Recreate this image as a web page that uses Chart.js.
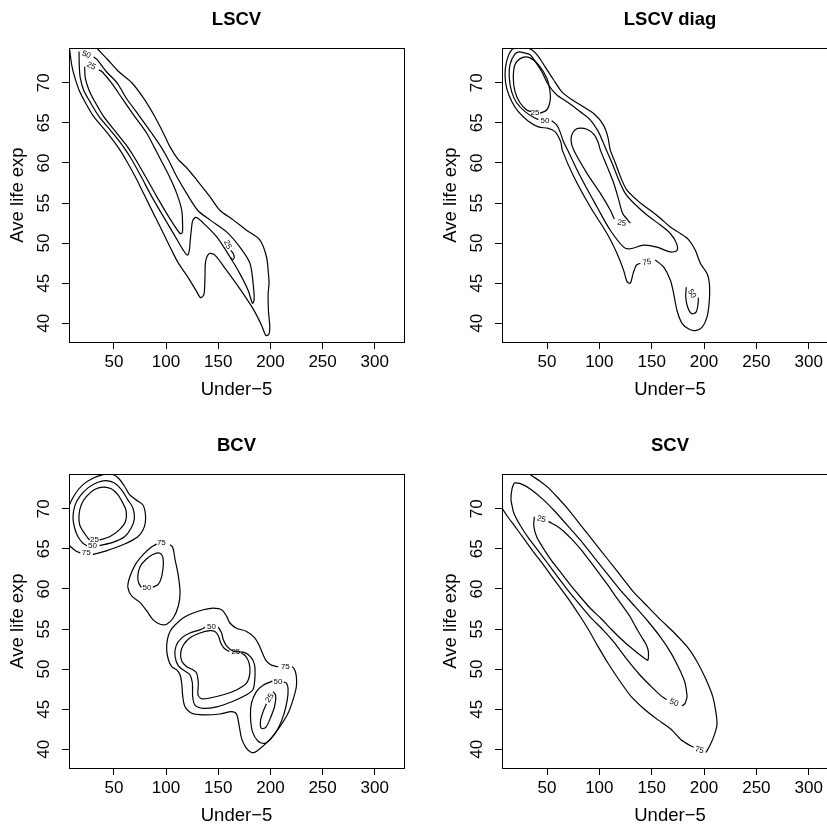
<!DOCTYPE html>
<html>
<head>
<meta charset="utf-8">
<title>Contours</title>
<script src="https://cdn.jsdelivr.net/npm/chart.js@4.4.1/dist/chart.umd.min.js"></script>
<style>
  html, body { margin:0; padding:0; background:#fff; }
  body { width:827px; height:826px; position:relative; overflow:hidden; }
  canvas { position:absolute; }
</style>
</head>
<body>
<canvas id="p1" width="414" height="413" style="left:0;top:0"></canvas>
<canvas id="p2" width="430" height="413" style="left:414px;top:0"></canvas>
<canvas id="p3" width="414" height="413" style="left:0;top:413px"></canvas>
<canvas id="p4" width="430" height="413" style="left:414px;top:413px"></canvas>
<script>

// =====================================
// DATA
// =====================================

const panelTitles = ["LSCV", "LSCV diag", "BCV", "SCV"];
const xTitle = "Under\u22125";
const yTitle = "Ave life exp";
const xTicks = [50, 100, 150, 200, 250, 300];
const yTicks = [40, 45, 50, 55, 60, 65, 70];
const xRange = [7, 328];
const yRange = [37.67, 74.33];

// contour lines: [under-5, life exp]

// LSCV
const lscv75 = [[7.0,74.6],[7.6,74.1],[9.9,72.0],[12.7,70.6],[16.6,69.1],[22.0,67.7],[30.6,65.8],[42.7,63.9],[53.8,62.0],[61.5,60.4],[70.4,58.3],[79.9,55.8],[89.5,53.3],[97.5,51.2],[105.4,49.1],[111.8,47.5],[119.7,46.0],[128.7,44.1],[133.1,43.2],[136.3,43.6],[137.3,45.8],[137.9,47.7],[141.4,48.7],[146.8,48.5],[158.0,46.6],[170.7,44.3],[183.4,41.8],[191.4,39.8],[195.5,38.5],[198.4,38.6],[199.4,39.5],[198.1,41.6],[197.8,43.7],[198.7,45.0],[198.1,46.2],[196.2,48.3],[189.8,50.4],[177.1,51.6],[164.3,52.9],[151.6,54.1],[142.0,55.8],[129.3,57.9],[119.7,59.4],[111.8,60.4],[103.8,62.0],[97.5,63.7],[88.2,66.0],[78.3,68.1],[67.2,70.0],[54.5,71.4],[44.0,72.9],[33.8,74.3],[31.8,74.6]];
const lscv50 = [[30.6,73.2],[33.8,72.9],[42.7,71.4],[52.9,70.0],[61.8,68.1],[73.6,66.0],[86.3,63.7],[95.2,62.0],[102.2,60.4],[110.2,58.3],[119.7,56.2],[130.3,54.1],[142.0,52.9],[158.0,51.4],[170.7,49.5],[180.3,47.5],[183.4,45.0],[184.4,42.9],[182.8,42.5],[178.7,44.1],[170.7,46.2],[161.1,48.3],[148.4,50.8],[135.7,52.5],[128.7,53.2],[125.5,52.8],[124.2,51.6],[123.2,50.4],[122.3,49.1],[120.4,48.5],[116.6,49.1],[108.0,51.0],[97.5,53.3],[86.3,55.8],[76.1,58.3],[67.2,60.4],[59.2,62.0],[47.8,63.9],[35.7,65.8],[26.8,67.7],[21.0,69.1],[17.8,70.6],[16.9,72.0],[16.6,73.9]];
const lscv25 = [[35.7,71.6],[38.5,71.4],[47.5,70.0],[57.6,68.1],[68.8,66.0],[81.5,63.7],[88.5,62.0],[94.9,60.4],[103.2,58.3],[110.2,56.2],[115.0,54.1],[115.9,52.0],[115.5,51.3],[113.4,51.2],[102.5,53.3],[91.1,55.8],[80.3,58.3],[71.0,60.4],[63.1,62.0],[51.6,63.9],[40.1,65.8],[31.5,67.7],[26.1,69.1],[22.6,70.6],[22.0,72.0]];
const lscv25b = [[162.1,49.1],[164.3,48.7],[165.3,48.2],[163.7,47.96],[161.8,48.2]];
const lscvLabels = [["50",23.6,73.5,20],["25",28.3,72.1,25],["25",158.9,49.8,65]];

// LSCV diag
const diag75 = [[139.2,47.5],[135.4,47.25],[132.2,46.2],[129.6,45.0],[126.4,45.2],[123.2,46.6],[116.9,48.7],[107.3,51.2],[91.4,54.5],[75.5,58.3],[64.6,61.6],[63.4,62.5],[60.8,63.3],[57.6,63.9],[51.3,64.3],[41.7,64.5],[32.2,65.2],[22.6,66.4],[16.2,67.7],[11.5,69.3],[9.9,71.0],[11.5,72.7],[16.2,74.1],[22.6,74.4],[29.0,74.4],[35.4,74.1],[41.7,73.3],[48.1,72.0],[56.1,70.4],[64.0,68.9],[73.6,67.9],[84.7,67.0],[95.9,66.0],[103.8,64.75],[108.0,63.3],[110.5,61.6],[115.3,60.0],[120.1,58.3],[126.4,56.6],[139.2,55.0],[148.7,54.1],[158.3,53.1],[167.8,52.0],[177.4,51.2],[185.4,50.4],[191.7,49.1],[196.5,47.5],[202.9,46.2],[205.1,45.0],[205.1,42.9],[202.9,40.8],[198.1,39.5],[191.7,39.1],[185.4,39.3],[179.0,40.0],[174.2,41.6],[171.0,43.7],[167.8,45.4],[161.5,47.0],[153.5,47.9]];
const diag50 = [[41.7,65.4],[38.5,65.6],[29.0,66.4],[21.0,67.5],[16.2,68.9],[14.0,70.6],[14.65,72.25],[19.4,73.6],[23.6,73.85],[27.4,73.75],[33.8,73.5],[38.5,72.7],[44.9,71.4],[51.3,69.75],[59.2,68.5],[70.4,67.5],[81.5,66.4],[91.1,65.4],[99.0,63.9],[103.2,62.7],[106.7,61.6],[112.1,60.0],[118.5,57.9],[124.8,56.2],[132.8,55.0],[145.5,53.5],[158.3,52.25],[167.8,51.2],[173.6,50.0],[174.2,49.1],[167.8,48.9],[155.1,49.5],[142.4,49.75],[129.6,49.3],[123.2,49.5],[110.5,51.6],[97.8,54.5],[81.9,58.3],[69.7,61.6],[65.6,62.7],[62.4,63.9],[59.2,64.75],[54.5,65.25]];
const diag25 = [[43.3,66.2],[49.7,66.6],[52.9,67.7],[52.9,68.9],[49.7,70.6],[41.7,72.25],[33.8,73.1],[25.8,73.1],[19.4,72.25],[17.8,70.6],[19.4,68.9],[24.2,67.5],[30.6,66.6],[34.7,66.4]];
const diag25b = [[129.6,52.5],[127.1,52.9],[122.3,53.7],[118.5,55.4],[113.7,57.5],[107.3,59.6],[101.0,61.6],[99.0,62.5],[95.2,63.5],[88.2,64.2],[79.3,64.3],[74.8,63.8],[72.9,62.9],[75.5,61.6],[88.2,58.7],[101.0,56.2],[110.5,54.1],[114.3,53.0]];
const diag50b = [[183.1,44.5],[182.5,43.3],[184.4,42.0],[188.2,41.2],[192.4,41.4],[194.3,42.4],[194.6,43.2]];
const diagLabels = [["25",38.5,66.2,0],["50",48.1,65.2,0],["25",121.3,52.5,10],["75",145.5,47.6,-10],["50",188.5,43.7,60]];

// BCV
const bcv25a = [[36.3,66.1],[45.9,66.5],[55.4,67.4],[61.1,68.4],[61.8,69.7],[58.6,70.7],[53.8,71.75],[47.5,72.5],[39.5,72.7],[31.5,72.4],[23.6,71.5],[18.8,70.5],[16.6,69.25],[17.2,68.0],[20.4,67.2],[24.2,66.5],[26.75,66.1]];
const bcv50a = [[36.3,65.4],[49.0,65.8],[60.2,66.5],[66.6,67.6],[69.7,68.8],[68.2,70.1],[63.4,71.1],[57.0,72.4],[50.6,73.2],[42.7,73.5],[34.7,73.3],[25.2,72.6],[17.2,71.5],[12.4,70.3],[10.8,68.8],[12.4,67.6],[15.6,66.5],[20.4,65.7],[24.2,65.4]];
const bcv75a = [[29.9,64.3],[42.7,64.75],[58.6,65.5],[72.9,66.5],[79.3,67.8],[80.25,69.25],[77.7,70.5],[71.3,71.1],[65.0,71.75],[60.2,72.8],[53.8,73.9],[47.5,74.3],[39.5,74.25],[29.9,73.8],[20.4,73.0],[12.4,71.75],[5.7,69.9],[3.0,68.0],[5.7,65.7],[9.2,65.2],[14.0,64.7],[17.8,64.5]];
const bcv75b = [[91.1,65.6],[86.3,65.25],[78.3,64.3],[70.4,63.0],[65.0,61.4],[63.4,60.2],[67.2,59.1],[75.2,58.3],[81.5,57.25],[87.9,56.1],[94.3,55.6],[100.6,55.6],[107.0,56.4],[111.8,57.9],[113.4,59.5],[111.8,61.6],[108.6,63.7],[106.4,65.2],[103.8,65.5]];
const bcv50b = [[87.3,60.2],[92.7,60.6],[95.9,61.6],[97.45,63.3],[96.2,64.2],[92.7,64.5],[87.3,64.3],[80.9,63.7],[75.2,62.8],[72.9,61.6],[73.9,60.7],[76.4,60.2]];
const bcv75c = [[207.3,50.3],[201.0,50.5],[196.2,51.0],[193.0,51.8],[189.8,52.8],[185.0,53.9],[177.1,54.7],[167.5,55.1],[161.2,55.75],[158.0,56.6],[153.2,57.4],[145.2,57.6],[135.7,57.4],[126.1,57.0],[116.6,56.4],[108.6,55.5],[103.8,54.7],[101.3,53.7],[100.6,52.4],[102.2,51.2],[105.4,50.3],[110.2,49.9],[113.4,49.3],[115.0,48.25],[116.0,46.6],[118.2,45.3],[124.5,44.5],[135.7,44.3],[151.6,44.4],[162.7,44.7],[167.5,44.4],[170.0,43.0],[172.3,41.4],[176.4,40.25],[181.85,39.6],[187.2,39.8],[199.4,41.2],[208.9,42.8],[216.9,44.5],[221.7,46.2],[224.85,47.8],[224.85,49.1],[223.3,49.9],[221.0,50.3]];
const bcv50c = [[150.0,55.25],[153.2,54.5],[154.8,53.7],[158.0,52.9],[164.3,52.25],[175.5,52.05],[181.85,51.4],[185.0,50.4],[185.0,48.7],[183.4,47.5],[177.1,46.8],[164.3,46.0],[148.4,45.3],[135.7,45.1],[127.7,45.5],[125.5,46.6],[125.2,48.3],[122.9,49.3],[118.2,49.75],[111.8,50.4],[108.6,51.6],[109.6,52.9],[115.0,53.9],[122.9,54.5],[132.5,54.9],[137.3,55.2]];
const bcv25c = [[172.3,52.0],[176.4,51.6],[179.6,50.75],[180.3,49.5],[177.1,48.25],[167.5,47.4],[154.8,46.8],[142.0,46.4],[134.1,46.3],[130.6,46.8],[130.9,48.25],[129.3,49.5],[126.1,49.9],[119.7,50.3],[115.0,51.0],[114.0,52.0],[116.6,53.0],[123.0,53.9],[132.5,54.5],[142.0,54.8],[146.8,54.7],[150.0,54.2],[152.3,53.3],[155.7,52.6],[160.5,52.2]];
const bcv50d = [[201.9,48.5],[193.0,48.0],[186.6,47.2],[181.85,45.75],[180.9,44.1],[182.8,42.2],[188.2,41.0],[194.6,40.75],[201.0,41.4],[207.3,42.6],[212.7,44.3],[216.2,46.2],[216.9,47.6],[215.3,48.25],[212.7,48.4]];
const bcv25d = [[202.6,47.2],[205.1,46.7],[204.1,45.4],[200.3,44.0],[195.6,42.75],[191.4,42.6],[190.45,43.5],[193.0,44.7],[196.2,45.67]];
const bcvLabels = [["25",31.5,66.1,0],["50",29.5,65.4,0],["75",23.6,64.45,0],["75",95.5,65.7,0],["50",81.8,60.2,0],["50",143.6,55.3,0],["25",166.9,52.1,0],["75",214.3,50.35,0],["50",207.3,48.45,0],["25",199.4,46.4,-55]];

// SCV
const scv75 = [[190.1,40.25],[187.6,40.4],[178.0,41.2],[168.5,42.5],[155.7,43.7],[143.0,45.0],[130.3,46.6],[120.7,48.3],[108.0,50.8],[98.4,52.9],[90.4,54.75],[82.5,56.4],[72.9,58.3],[63.4,60.0],[53.8,61.7],[44.3,63.4],[36.3,64.75],[27.7,66.3],[18.8,67.9],[12.4,69.0],[7.0,70.1],[5.4,70.4],[0,80],[25,80],[33.1,74.4],[42.7,73.5],[50.6,72.7],[60.2,71.4],[69.7,70.0],[82.5,67.9],[95.2,65.8],[108.0,63.7],[120.7,61.6],[133.4,59.5],[146.2,57.8],[158.9,56.1],[171.7,54.5],[184.4,52.7],[193.9,50.8],[201.9,48.7],[208.3,46.6],[211.5,44.5],[212.4,43.1],[209.9,41.8],[206.1,40.6],[201.9,39.6]];
const scv50 = [[164.3,46.2],[159.6,46.6],[150.6,47.7],[138.5,49.3],[126.4,51.2],[114.3,53.3],[103.5,54.9],[92.0,56.4],[80.9,58.1],[70.4,59.75],[60.2,61.5],[50.6,63.2],[41.7,64.75],[33.1,66.2],[24.5,67.9],[18.2,69.5],[15.6,71.1],[16.6,72.5],[18.8,73.2],[25.2,73.1],[34.7,72.4],[45.9,71.2],[57.0,69.75],[69.7,67.9],[82.5,66.0],[95.2,63.9],[108.0,61.8],[120.7,59.75],[133.4,57.9],[146.2,56.0],[158.9,53.9],[168.5,52.0],[176.4,50.0],[181.85,48.3],[183.8,46.6],[181.85,45.7],[179.0,45.4]];
const scv25 = [[37.9,69.0],[37.3,67.9],[40.4,66.4],[46.8,65.0],[54.5,63.5],[63.4,62.0],[72.9,60.4],[82.5,58.9],[92.0,57.5],[101.0,56.4],[111.1,55.0],[121.3,53.7],[131.8,52.5],[141.4,51.5],[146.2,51.1],[146.8,51.3],[146.8,52.25],[144.6,53.1],[140.4,54.0],[135.0,55.2],[129.6,56.5],[123.2,57.7],[115.9,59.0],[108.0,60.5],[100.0,61.9],[91.4,63.4],[82.5,64.9],[73.6,66.2],[65.9,67.2],[58.6,67.9],[54.5,68.2],[51.3,68.4]];
const scvLabels = [["25",44.6,68.7,15],["50",171.3,45.8,20],["75",195.5,39.9,15]];


// =====================================
// FRAME, TEXT, CONTOUR LABELS
// =====================================

const FONT = '"Liberation Sans", Arial, Helvetica, sans-serif';

const rStyle = {

  id: "rStyle",

  afterDatasetsDraw(chart, args, opts){

    const { ctx, chartArea: a, scales: { x, y } } = chart;

    ctx.save();

    ctx.strokeStyle = "#000";
    ctx.lineWidth = 1;
    ctx.strokeRect(a.left + 0.5, a.top + 0.5, a.right - a.left, a.bottom - a.top);

    ctx.fillStyle = "#000";
    ctx.textAlign = "center";
    ctx.textBaseline = "middle";

    // contour labels
    ctx.font = "8px " + FONT;
    opts.labels.forEach(l => {
      ctx.save();
      ctx.translate(x.getPixelForValue(l[1]), y.getPixelForValue(l[2]));
      ctx.rotate(l[3] * Math.PI / 180);
      ctx.fillText(l[0], 0, 0);
      ctx.restore();
    });

    // title
    ctx.font = "bold 18.5px " + FONT;
    ctx.fillText(opts.title, (a.left + a.right) / 2, a.top - 28);

    // x tick labels
    ctx.font = "17px " + FONT;
    xTicks.forEach(v => {
      ctx.fillText(String(v), x.getPixelForValue(v), a.bottom + 20);
    });

    // y tick labels (vertical, R style)
    yTicks.forEach(v => {
      ctx.save();
      ctx.translate(a.left - 25, y.getPixelForValue(v));
      ctx.rotate(-Math.PI / 2);
      ctx.fillText(String(v), 0, 0);
      ctx.restore();
    });

    // axis titles
    ctx.font = "18.5px " + FONT;
    ctx.fillText(xTitle, (a.left + a.right) / 2, a.bottom + 48);

    ctx.save();
    ctx.translate(a.left - 51, (a.top + a.bottom) / 2);
    ctx.rotate(-Math.PI / 2);
    ctx.fillText(yTitle, 0, 0);
    ctx.restore();

    ctx.restore();

  }

};


// =====================================
// PANELS
// =====================================

function axis(ticks, range, fit){

  return {
    type: "linear",
    min: range[0],
    max: range[1],
    afterBuildTicks: s => { s.ticks = ticks.map(v => ({ value: v })); },
    afterFit: fit,
    ticks: { display: false },
    grid: {
      drawOnChartArea: false,
      drawTicks: true,
      tickLength: 7,
      color: "#000",
      lineWidth: 1
    },
    border: { display: true, color: "#000", width: 1 }
  };

}

function renderPanel(id, title, lines, labels, box, tension){

  new Chart(document.getElementById(id), {

    type: "scatter",

    data: {
      datasets: lines.map(line => ({
        data: line.map(p => ({ x: p[0], y: p[1] })),
        showLine: true,
        borderColor: "#000",
        borderWidth: 1.2,
        pointRadius: 0,
        pointHoverRadius: 0,
        tension: tension,
        fill: false
      }))
    },

    options: {
      responsive: false,
      animation: false,
      events: [],
      layout: { padding: { top: box.top, right: box.right, left: 0, bottom: 0 } },
      scales: {
        x: axis(xTicks, xRange, s => { s.height = box.bottom; }),
        y: axis(yTicks, yRange, s => { s.width = box.left; })
      },
      plugins: {
        legend: { display: false },
        tooltip: { enabled: false },
        rStyle: { title, labels }
      }
    },

    plugins: [rStyle]

  });

}

renderPanel("p1", panelTitles[0], [lscv75, lscv50, lscv25, lscv25b], lscvLabels,
  { left: 69, right: 10, top: 48, bottom: 71 }, 0.3);

renderPanel("p2", panelTitles[1], [diag75, diag50, diag25, diag25b, diag50b], diagLabels,
  { left: 88, right: 6, top: 48, bottom: 71 }, 0.3);

renderPanel("p3", panelTitles[2], [bcv75a, bcv50a, bcv25a, bcv75b, bcv50b, bcv75c, bcv50c, bcv25c, bcv50d, bcv25d], bcvLabels,
  { left: 69, right: 10, top: 61, bottom: 58 }, 0.3);

renderPanel("p4", panelTitles[3], [scv75, scv50, scv25], scvLabels,
  { left: 88, right: 6, top: 61, bottom: 58 }, 0.15);

</script>
</body>
</html>
